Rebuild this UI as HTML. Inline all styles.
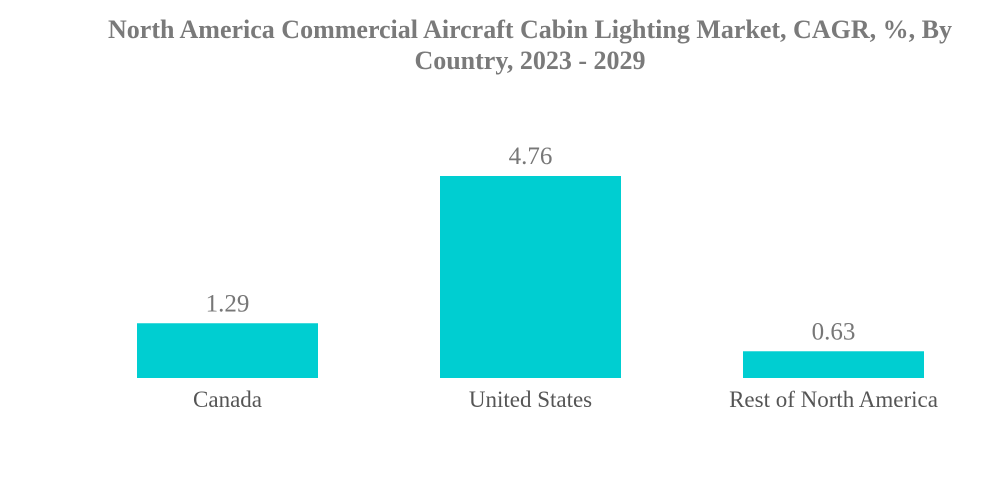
<!DOCTYPE html>
<html><head><meta charset="utf-8"><style>
body{margin:0;width:1000px;height:483px;background:#fff;overflow:hidden}
svg text{font-family:"Liberation Serif",serif}
</style></head><body>
<svg width="1000" height="483">
<text x="530" y="38" text-anchor="middle" font-size="26" font-weight="bold" fill="#7a7a7a">North America Commercial Aircraft Cabin Lighting Market, CAGR, %, By</text>
<text x="530" y="69" text-anchor="middle" font-size="26" font-weight="bold" fill="#7a7a7a">Country, 2023 - 2029</text>
<g id="bars"></g>
</svg>
<script>
const categories=["Canada","United States","Rest of North America"];
const values=[1.29,4.76,0.63];
const labels=["1.29","4.76","0.63"];
const baseY=378, pxPerUnit=202/4.76, x0=137, step=303, bw=181;
const yScale=v=>baseY-v*pxPerUnit;
const xScale=i=>x0+i*step;
const g=document.getElementById('bars');
const ns='http://www.w3.org/2000/svg';
categories.forEach((c,i)=>{
  const r=document.createElementNS(ns,'rect');
  
  
  r.setAttribute('x',xScale(i));r.setAttribute('y',yScale(values[i]));
  r.setAttribute('width',bw);r.setAttribute('height',baseY-yScale(values[i]));
  r.setAttribute('fill','#00ced1');g.appendChild(r);
  const t=document.createElementNS(ns,'text');
  
  
  t.setAttribute('x',xScale(i)+bw/2);t.setAttribute('y',yScale(values[i])-12);
  t.setAttribute('text-anchor','middle');t.setAttribute('font-size','25');t.setAttribute('fill','#777');
  t.textContent=labels[i];g.appendChild(t);
  const l=document.createElementNS(ns,'text');
  
  
  l.setAttribute('x',xScale(i)+bw/2);l.setAttribute('y',407);
  l.setAttribute('text-anchor','middle');l.setAttribute('font-size','23');l.setAttribute('fill','#555');
  l.textContent=c;g.appendChild(l);
});
</script>
</body></html>
